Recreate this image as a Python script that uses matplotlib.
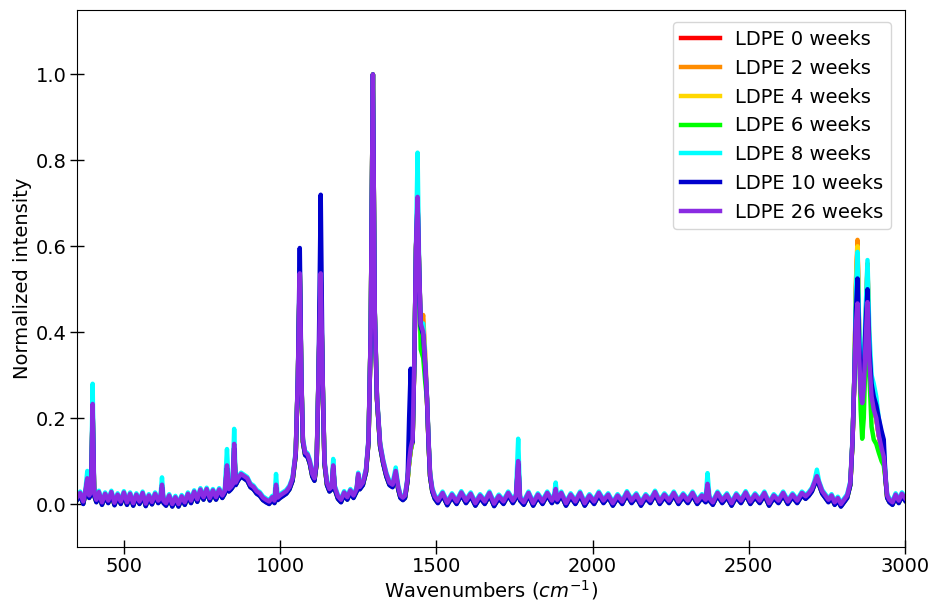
import numpy as np
import matplotlib
matplotlib.use("Agg")
import matplotlib.pyplot as plt

# Raman spectra of LDPE after weathering, normalised to the 1297 cm-1 band.
# Shared profile; other series differ only at the bands listed below.
wavenumbers = [
    350, 360, 370, 377, 383, 389, 395, 400, 405, 412, 420, 430, 440, 450, 460, 470, 480, 490,
    500, 510, 520, 530, 540, 550, 560, 570, 580, 590, 600, 610, 617, 622, 627, 635, 645, 655,
    665, 675, 685, 695, 705, 715, 725, 735, 745, 755, 765, 775, 785, 795, 805, 815, 823, 830,
    836, 843, 848, 853, 858, 865, 875, 885, 895, 905, 915, 925, 935, 945, 955, 965, 975, 982,
    987, 992, 1000, 1010, 1020, 1030, 1040, 1050, 1057, 1063, 1068, 1073, 1080, 1088, 1095,
    1103, 1110, 1117, 1123, 1130, 1136, 1142, 1150, 1158, 1165, 1170, 1175, 1185, 1195, 1205,
    1215, 1225, 1235, 1245, 1250, 1255, 1265, 1275, 1283, 1290, 1297, 1303, 1310, 1320, 1330,
    1340, 1350, 1360, 1370, 1378, 1385, 1393, 1400, 1408, 1413, 1418, 1424, 1430, 1435, 1440,
    1445, 1450, 1458, 1465, 1470, 1475, 1480, 1487, 1495,
    1505, 1520, 1535, 1550, 1565, 1580, 1595, 1610, 1625, 1640, 1655, 1670, 1685, 1700, 1715,
    1730, 1745, 1755, 1762, 1768, 1780, 1795, 1810, 1825, 1840, 1855, 1870, 1877, 1882, 1887,
    1900, 1915, 1930, 1945, 1960, 1975, 1990, 2005, 2020, 2035, 2050, 2065, 2080, 2095, 2110,
    2125, 2140, 2155, 2170, 2185, 2200, 2215, 2230, 2245, 2260, 2275, 2290, 2305, 2320, 2335,
    2350, 2362, 2368, 2374, 2385, 2400, 2415, 2430, 2445, 2460, 2475, 2490, 2505, 2520, 2535,
    2550, 2565, 2580, 2595, 2610, 2625, 2640, 2655, 2670, 2682, 2692, 2702, 2710, 2718, 2725,
    2735, 2745, 2755, 2765, 2775, 2785, 2795, 2805, 2815, 2825, 2832, 2838, 2843, 2848, 2853,
    2858, 2863, 2868, 2874, 2880, 2886, 2893, 2900, 2908, 2916, 2925, 2932, 2938, 2943, 2950,
    2960, 2970, 2980, 2990, 3000,
]
base_intensity = [
    0.015, 0.026, 0.006, 0.03, 0.06, 0.02, 0.03, 0.233, 0.025, 0.01, 0.028, 0.004, 0.024, 0.008,
    0.028, 0.003, 0.022, 0.006, 0.027, 0.004, 0.024, 0.002, 0.022, 0.006, 0.026, 0.001, 0.02,
    0.005, 0.024, 0.008, 0.015, 0.045, 0.008, 0.002, 0.02, 0.0, 0.016, 0.0, 0.018, 0.004,
    0.024, 0.008, 0.029, 0.011, 0.034, 0.016, 0.035, 0.014, 0.032, 0.016, 0.034, 0.02, 0.03, 0.09,
    0.035, 0.04, 0.045, 0.14, 0.05, 0.06, 0.07, 0.065, 0.06, 0.045, 0.04, 0.03, 0.025, 0.015,
    0.01, 0.006, 0.016, 0.008, 0.045, 0.015, 0.02, 0.025, 0.03, 0.04, 0.06, 0.12, 0.3, 0.537,
    0.3, 0.15, 0.12, 0.115, 0.1, 0.07, 0.06, 0.1, 0.3, 0.537, 0.3, 0.1, 0.05, 0.035, 0.04, 0.09,
    0.04, 0.018, 0.01, 0.027, 0.016, 0.032, 0.02, 0.035, 0.07, 0.04, 0.05, 0.08, 0.15, 0.4, 1.0,
    0.45, 0.25, 0.14, 0.1, 0.07, 0.05, 0.045, 0.077, 0.04, 0.02, 0.015, 0.02, 0.06, 0.1, 0.13,
    0.15, 0.35, 0.6, 0.715, 0.55, 0.42, 0.40, 0.32, 0.25, 0.15, 0.07, 0.035, 0.018,
    0.008, 0.026, 0.003, 0.022, 0.006, 0.027, 0.008, 0.024, 0.002, 0.02, 0.006, 0.026, 0.001,
    0.019, 0.006, 0.026, 0.008, 0.02, 0.10, 0.014, 0.004, 0.026, 0.002, 0.022, 0.006, 0.026, 0.008,
    0.018, 0.035, 0.01, 0.026, 0.002, 0.022, 0.006, 0.026, 0.002, 0.02, 0.006, 0.026, 0.008,
    0.022, 0.002, 0.02, 0.006, 0.027, 0.008, 0.022, 0.002, 0.02, 0.008, 0.028, 0.006, 0.022,
    0.008, 0.026, 0.006, 0.022, 0.008, 0.026, 0.006, 0.02, 0.01, 0.047, 0.014, 0.004, 0.026,
    0.008, 0.022, 0.002, 0.022, 0.008, 0.027, 0.006, 0.022, 0.008, 0.026, 0.002, 0.02, 0.008,
    0.026, 0.006, 0.022, 0.008, 0.026, 0.018, 0.025, 0.035, 0.05, 0.065, 0.05, 0.03, 0.02, 0.01,
    0.02, 0.004, 0.014, 0.0, 0.01, 0.02, 0.05, 0.15, 0.3, 0.42, 0.467, 0.35, 0.26, 0.235, 0.27,
    0.38, 0.47, 0.33, 0.25, 0.22, 0.2, 0.16, 0.13, 0.11, 0.06, 0.02, 0.01, 0.004, 0.022, 0.008,
    0.024, 0.014,
]

labels = ["LDPE 0 weeks", "LDPE 2 weeks", "LDPE 4 weeks", "LDPE 6 weeks",
          "LDPE 8 weeks", "LDPE 10 weeks", "LDPE 26 weeks"]
colors = ["red", "darkorange", "gold", "lime", "cyan", "mediumblue", "blueviolet"]
baseline_shift = [-0.004, -0.003, -0.005, -0.005, 0.003, -0.006, 0.0]

# band intensities that differ from the shared profile, per series {wavenumber: intensity}
common_bands = {400: 0.22, 853: 0.13, 1063: 0.54, 1130: 0.53, 1440: 0.70}
ch_stretch = {  # 2843 ... 2932 cm-1
    "LDPE 0 weeks":  [0.50, 0.60, 0.40, 0.28, 0.25, 0.28, 0.42, 0.55, 0.35, 0.25, 0.22, 0.20, 0.16, 0.13, 0.11],
    "LDPE 2 weeks":  [0.52, 0.615, 0.41, 0.28, 0.26, 0.29, 0.43, 0.56, 0.35, 0.25, 0.22, 0.20, 0.16, 0.13, 0.11],
    "LDPE 4 weeks":  [0.50, 0.60, 0.40, 0.28, 0.25, 0.28, 0.42, 0.55, 0.35, 0.25, 0.22, 0.20, 0.16, 0.13, 0.11],
    "LDPE 6 weeks":  [0.45, 0.55, 0.38, 0.22, 0.152, 0.20, 0.35, 0.52, 0.30, 0.18, 0.15, 0.14, 0.12, 0.10, 0.09],
    "LDPE 8 weeks":  [0.50, 0.587, 0.42, 0.32, 0.30, 0.33, 0.45, 0.568, 0.40, 0.30, 0.28, 0.25, 0.20, 0.16, 0.13],
    "LDPE 10 weeks": [0.45, 0.525, 0.38, 0.29, 0.27, 0.30, 0.42, 0.50, 0.36, 0.28, 0.25, 0.23, 0.20, 0.17, 0.15],
    "LDPE 26 weeks": [0.42, 0.467, 0.35, 0.26, 0.235, 0.27, 0.38, 0.47, 0.33, 0.25, 0.22, 0.20, 0.16, 0.13, 0.11],
}
ch_wn = [2843, 2848, 2853, 2858, 2863, 2868, 2874, 2880, 2886, 2893, 2900, 2908, 2916, 2925, 2932]
series_bands = {
    "LDPE 0 weeks":  {**common_bands, 1458: 0.40},
    "LDPE 2 weeks":  {**common_bands, 1458: 0.44, 1465: 0.34},
    "LDPE 4 weeks":  {**common_bands, 1458: 0.41},
    "LDPE 6 weeks":  {**common_bands, 1450: 0.36, 1458: 0.34, 1465: 0.28},
    "LDPE 8 weeks":  {383: 0.077, 400: 0.28, 622: 0.062, 830: 0.128, 853: 0.175, 987: 0.07,
                      1063: 0.55, 1130: 0.54, 1170: 0.105, 1370: 0.085, 1418: 0.15, 1440: 0.818,
                      1458: 0.42, 1762: 0.152, 1882: 0.05, 2368: 0.072, 2718: 0.08},
    "LDPE 10 weeks": {400: 0.22, 853: 0.13, 1063: 0.596, 1130: 0.72, 1413: 0.2, 1418: 0.315,
                      1440: 0.70},
    "LDPE 26 weeks": {},
}

fig = plt.figure(figsize=(9.3, 6.02), dpi=100)
ax = fig.add_axes([77 / 930, 1 - 547 / 602, (905 - 77) / 930, (547 - 10) / 602])

for name, color, shift in zip(labels, colors, baseline_shift):
    y = np.array(base_intensity) + shift
    for wn, h in series_bands[name].items():
        y[wavenumbers.index(wn)] = h
    for wn, h in zip(ch_wn, ch_stretch[name]):
        y[wavenumbers.index(wn)] = h
    y[wavenumbers.index(1297)] = 1.0
    ax.plot(wavenumbers, y, color=color, lw=3.2, label=name)

ax.set_xlim(350, 3000)
ax.set_ylim(-0.1, 1.15)
ax.set_xticks([500, 1000, 1500, 2000, 2500, 3000])
ax.set_yticks([0.0, 0.2, 0.4, 0.6, 0.8, 1.0])
ax.tick_params(direction="inout", length=10, width=1, labelsize=14, pad=2.5)
ax.set_xlabel("Wavenumbers ($cm^{-1}$)", fontsize=14, labelpad=1)
ax.set_ylabel("Normalized intensity", fontsize=14, labelpad=3)
ax.legend(loc="upper right", fontsize=14, bbox_to_anchor=(0.995, 0.995))

fig.savefig("out.png", dpi=100)
